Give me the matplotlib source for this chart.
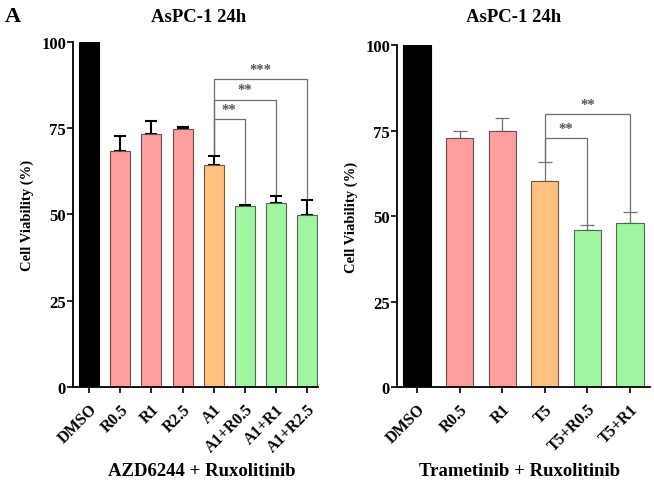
import matplotlib.pyplot as plt

plt.rcParams['font.family'] = ['Liberation Serif', 'DejaVu Serif']
plt.rcParams['font.weight'] = 'bold'

# left panel: AZD6244 + Ruxolitinib
left_labels = ['DMSO', 'R0.5', 'R1', 'R2.5', 'A1', 'A1+R0.5', 'A1+R1', 'A1+R2.5']
left_vals = [100, 68.3, 73.2, 74.7, 64.2, 52.3, 53.3, 49.8]
left_err = [0, 4.3, 3.8, 0.5, 2.8, 0.3, 2.1, 4.4]
left_groups = ['ctrl', 'rux', 'rux', 'rux', 'drug', 'combo', 'combo', 'combo']
left_sig = [(4, 5, 77.6, '**'), (4, 6, 83.2, '**'), (4, 7, 89.2, '***')]

# right panel: Trametinib + Ruxolitinib
right_labels = ['DMSO', 'R0.5', 'R1', 'T5', 'T5+R0.5', 'T5+R1']
right_vals = [100, 72.7, 74.8, 60.2, 46.0, 47.9]
right_err = [0, 2.1, 3.9, 5.7, 1.5, 3.2]
right_groups = ['ctrl', 'rux', 'rux', 'drug', 'combo', 'combo']
right_sig = [(3, 4, 72.7, '**'), (3, 5, 79.7, '**')]

colors = {'ctrl': '#000000', 'rux': '#ff9e9e', 'drug': '#ffc080', 'combo': '#a0f5a0'}
edges = {'ctrl': '#000000', 'rux': '#6a5050', 'drug': '#6a5a40', 'combo': '#4a6a4a'}

fig = plt.figure(figsize=(6.54, 4.81), dpi=100)
ax1 = fig.add_axes([0.1116, 0.1933, 0.3746, 0.718])
ax2 = fig.add_axes([0.607, 0.1933, 0.387, 0.711])


def draw(ax, labels, vals, err, groups, sig, xlim, ecolor, elw, cap):
    x = list(range(len(labels)))
    ax.bar(x, vals, width=0.64,
           color=[colors[g] for g in groups],
           edgecolor=[edges[g] for g in groups], linewidth=0.8, zorder=2)
    ax.errorbar(x, vals, yerr=[[0] * len(err), err], fmt='none',
                ecolor=ecolor, elinewidth=elw, capsize=cap, capthick=elw, zorder=1)
    for i, j, h, txt in sig:
        ax.plot([i, i, j, j], [vals[i] + err[i], h, h, vals[j] + err[j]],
                color='#707070', lw=0.9, zorder=0)
        ax.text((i + j) / 2, h + 1.0, txt, ha='center', va='bottom',
                fontsize=10.5, color='#555555')
    ax.set_xlim(*xlim)
    ax.set_ylim(0, 100)
    ax.set_yticks([0, 25, 50, 75, 100])
    ax.set_xticks(x)
    ax.set_xticklabels(labels, rotation=45, ha='right', rotation_mode='anchor',
                       fontsize=11.5, fontweight='bold')
    for t in ax.get_yticklabels():
        t.set_fontsize(12)
        t.set_fontweight('bold')
    ax.tick_params(axis='y', direction='out', length=4, width=1.2, pad=1)
    ax.tick_params(axis='x', direction='out', length=4, width=1.2, pad=6)
    for s in ['top', 'right']:
        ax.spines[s].set_visible(False)
    for s in ['left', 'bottom']:
        ax.spines[s].set_linewidth(1.3)
    ax.set_ylabel('Cell Viability (%)', fontsize=10.5, fontweight='bold', labelpad=5)


draw(ax1, left_labels, left_vals, left_err, left_groups, left_sig,
     (-0.52, 7.35), 'black', 1.5, 4)
draw(ax2, right_labels, right_vals, right_err, right_groups, right_sig,
     (-0.47, 5.47), '#707070', 0.9, 5)

fig.text(0.304, 0.963, 'AsPC-1 24h', fontsize=13.5, fontweight='bold', ha='center', va='center')
fig.text(0.786, 0.963, 'AsPC-1 24h', fontsize=13.5, fontweight='bold', ha='center', va='center')
fig.text(0.309, 0.02, 'AZD6244 + Ruxolitinib', fontsize=13.5, fontweight='bold', ha='center', va='center')
fig.text(0.794, 0.02, 'Trametinib + Ruxolitinib', fontsize=13.5, fontweight='bold', ha='center', va='center')
fig.text(0.008, 0.955, 'A', fontsize=16, fontweight='bold')

fig.savefig('out.png', dpi=100)
